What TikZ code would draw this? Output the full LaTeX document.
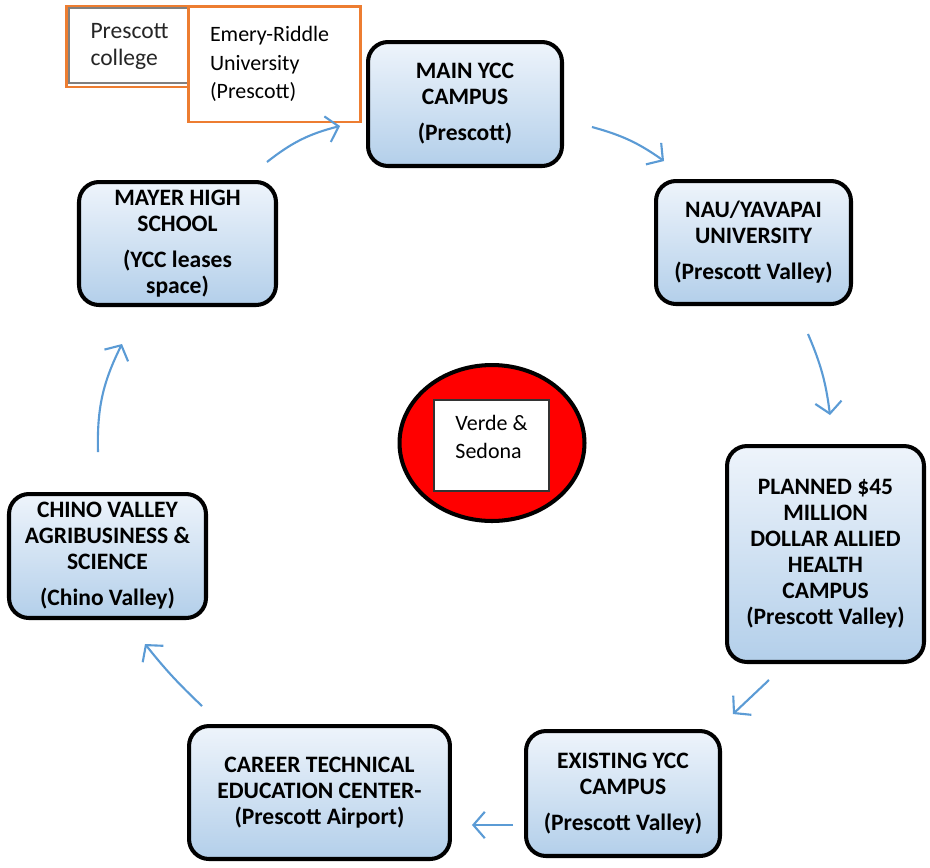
\documentclass[tikz,border=0pt]{standalone}
\usepackage{fontspec}
\setmainfont{Carlito}
\usetikzlibrary{arrows.meta, shapes.geometric}
\definecolor{flowblue}{HTML}{5B9BD5}
\definecolor{boxtop}{HTML}{EEF4FB}
\definecolor{boxbottom}{HTML}{B3CFEA}
\definecolor{uniorange}{HTML}{ED7D31}

\begin{document}
\begin{tikzpicture}[x=0.02cm, y=-0.02cm,
    campus/.style={draw=black, line width=2.3pt, rounded corners=0.4cm, top color=boxtop, bottom color=boxbottom,
      align=center, inner sep=0pt, outer sep=0pt, font={\bfseries\fontsize{13.4}{14.8}\selectfont}},
    uni/.style={draw=uniorange, line width=1.7pt, fill=white, align=left, outer sep=0pt},
    flow/.style={draw=flowblue, line width=1.2pt, -{Straight Barb[length=6.5pt, width=15pt]}}]
        \useasboundingbox (0, 0) rectangle (930, 867);

        % the other colleges, top left
        \node [uni, minimum width=2.68cm, minimum height=1.62cm, text width=1.7cm, inner xsep=0.49cm,
          text=black!85, font={\fontsize{13.4}{15.3}\selectfont}] (pcollege) at (133, 46.5) {Prescott\\college};
        \draw [gray, line width=1pt] ([shift={(3, 2)}]pcollege.north west) rectangle ([shift={(-3, -4)}]pcollege.south east);
        \node [uni, minimum width=3.46cm, minimum height=2.32cm, text width=2.58cm, inner xsep=0.44cm,
          font={\fontsize{12.5}{16.4}\selectfont}] (embry) at (274.5, 64) {Emery-Riddle\\University\\(Prescott)};

        % campuses
        \node [campus, minimum width=3.88cm, minimum height=2.48cm] (main) at (465, 104) {MAIN YCC\\CAMPUS\\[5.7pt](Prescott)};
        \node [campus, minimum width=3.9cm, minimum height=2.46cm] (nau) at (753.5, 242.5) {NAU/YAVAPAI\\UNIVERSITY\\[5.7pt](Prescott Valley)};
        \node [campus, minimum width=3.94cm, minimum height=4.32cm] (health) at (825.5, 554) {PLANNED \$45\\MILLION\\DOLLAR ALLIED\\HEALTH\\CAMPUS\\(Prescott Valley)};
        \node [campus, minimum width=3.88cm, minimum height=2.5cm] (existing) at (623, 793.5) {EXISTING YCC\\CAMPUS\\[5.7pt](Prescott Valley)};
        \node [campus, minimum width=5.22cm, minimum height=2.66cm] (career) at (319.5, 792.5) {CAREER TECHNICAL\\EDUCATION CENTER-\\(Prescott Airport)};
        \node [campus, minimum width=3.94cm, minimum height=2.48cm] (chino) at (107.5, 556) {CHINO VALLEY\\AGRIBUSINESS \&\\SCIENCE\\[5.7pt](Chino Valley)};
        \node [campus, minimum width=3.94cm, minimum height=2.46cm] (mayer) at (177.5, 243.5) {MAYER HIGH\\SCHOOL\\[5.7pt](YCC leases\\space)};

        % centre
        \node [ellipse, draw, fill=red, line width=2.3pt, minimum width=3.7cm, minimum height=3.12cm] (hub) at (492, 443) {};
        \node [draw=black!80, fill=white, line width=0.8pt, minimum width=2.3cm, minimum height=1.82cm,
          text depth=0.36cm, align=left, font={\fontsize{12.5}{15.9}\selectfont}] (verde) at (491.5, 445.5) {Verde \&\\Sedona};

        \draw [flow] ([shift={(-9, -20)}]mayer.north east) to [bend left=12] ([shift={(-28, 22)}]main.west);
        \draw [flow] ([shift={(30, 23)}]main.east) to [bend left=10] ([shift={(8, -20)}]nau.north west);
        \draw [flow] ([shift={(-43, 30)}]nau.south east) to [bend left=8] ([shift={(4.5, -31)}]health.north);
        \draw [flow] ([shift={(-56.5, 18)}]health.south) -- ([shift={(13, -17)}]existing.north east);
        \draw [flow] ([shift={(-13, 31.5)}]existing.west) -- ([shift={(22, 32.5)}]career.east);
        \draw [flow] ([shift={(13, -20)}]career.north west) to [bend left=4] ([shift={(37.5, 26)}]chino.south);
        \draw [flow] ([shift={(-9.5, -42)}]chino.north) to [bend left=14] ([shift={(-55.5, 39)}]mayer.south);
\end{tikzpicture}
\end{document}
